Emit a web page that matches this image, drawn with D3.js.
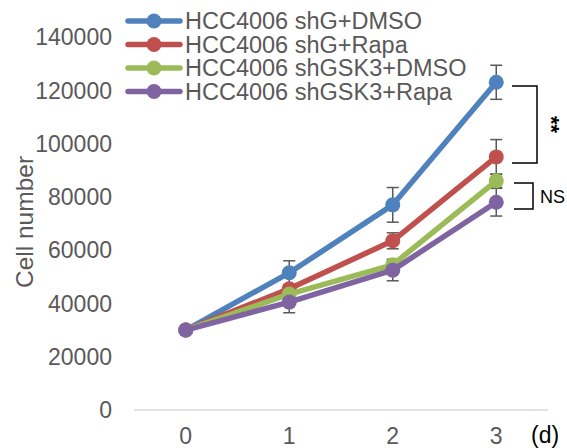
<!DOCTYPE html>
<html lang="en">
<head>
<meta charset="UTF-8">
<script src="https://d3js.org/d3.v7.min.js"></script>
<style>
  body { margin: 0; background: #fff; }
  text { font-family: "Liberation Sans", Arial, sans-serif; }
</style>
</head>
<body>
<svg width="567" height="448"></svg>
<script>
const days = ["0", "1", "2", "3"];
const seriesNames = ["HCC4006 shG+DMSO", "HCC4006 shG+Rapa", "HCC4006 shGSK3+DMSO", "HCC4006 shGSK3+Rapa"];
const seriesColors = ["#4f81bd", "#c0504d", "#9bbb59", "#8064a2"];
const shG_DMSO = [30000, 51500, 77000, 123000];
const shG_Rapa = [30000, 45500, 63500, 95000];
const shGSK3_DMSO = [30000, 43500, 54500, 86000];
const shGSK3_Rapa = [30000, 40500, 52500, 78000];
const errDMSO = [0, 4500, 6500, 6400];
const errRapa = [0, 1500, 3000, 6500];
const errGSK3DMSO = [0, 1500, 2000, 2500];
const errGSK3Rapa = [0, 4000, 4000, 5200];
const yTicks = [0, 20000, 40000, 60000, 80000, 100000, 120000, 140000];
const brackets = [
  { top: 121600, bottom: 92700, label: "**" },
  { top: 85200, bottom: 75400, label: "NS" }
];

const values = [shG_DMSO, shG_Rapa, shGSK3_DMSO, shGSK3_Rapa];
const errors = [errDMSO, errRapa, errGSK3DMSO, errGSK3Rapa];

const svg = d3.select("svg");
const x = d3.scaleBand().domain(days).range([134, 548]);
const xc = d => x(d) + x.bandwidth() / 2;
const y = d3.scaleLinear().domain([0, 140000]).range([410, 37]);
const grey = "#595959";

// y tick labels
svg.append("g").selectAll("text").data(yTicks).enter().append("text")
  .attr("x", 112).attr("y", d => y(d)).attr("dy", "0.36em")
  .attr("text-anchor", "end").attr("font-size", 23).attr("fill", grey)
  .text(d => d);

// x axis line
svg.append("line").attr("x1", 134).attr("x2", 548).attr("y1", y(0)).attr("y2", y(0))
  .attr("stroke", "#d9d9d9").attr("stroke-width", 1.5);

// x tick labels
svg.append("g").selectAll("text").data(days).enter().append("text")
  .attr("x", d => xc(d)).attr("y", 444).attr("text-anchor", "middle")
  .attr("font-size", 23).attr("fill", grey).text(d => d);

svg.append("text").attr("x", 531).attr("y", 443).attr("font-size", 23)
  .attr("fill", "#000").text("(d)");

// y title
svg.append("text").attr("transform", "translate(33,222) rotate(-90)")
  .attr("text-anchor", "middle").attr("font-size", 24.5).attr("fill", grey)
  .text("Cell number");

// error bars
values.forEach((vals, s) => {
  const g = svg.append("g").attr("stroke", grey).attr("stroke-width", 1.5);
  vals.forEach((v, i) => {
    const e = errors[s][i];
    if (!e) return;
    const cx = xc(days[i]);
    g.append("line").attr("x1", cx).attr("x2", cx).attr("y1", y(v - e)).attr("y2", y(v + e));
    g.append("line").attr("x1", cx - 6).attr("x2", cx + 6).attr("y1", y(v - e)).attr("y2", y(v - e));
    g.append("line").attr("x1", cx - 6).attr("x2", cx + 6).attr("y1", y(v + e)).attr("y2", y(v + e));
  });
});

// lines + markers
const line = d3.line().x((d, i) => xc(days[i])).y(d => y(d));
values.forEach((vals, s) => {
  svg.append("path").datum(vals).attr("d", line).attr("fill", "none")
    .attr("stroke", seriesColors[s]).attr("stroke-width", 5.5).attr("stroke-linejoin", "round");
  svg.append("g").selectAll("circle").data(vals).enter().append("circle")
    .attr("cx", (d, i) => xc(days[i])).attr("cy", d => y(d)).attr("r", 7.5)
    .attr("fill", seriesColors[s]);
});

// legend
const legend = svg.append("g");
seriesNames.forEach((name, i) => {
  const ly = 21 + i * 23.5;
  legend.append("line").attr("x1", 128).attr("x2", 180).attr("y1", ly).attr("y2", ly)
    .attr("stroke", seriesColors[i]).attr("stroke-width", 5.5).attr("stroke-linecap", "round");
  legend.append("circle").attr("cx", 154).attr("cy", ly).attr("r", 7.5).attr("fill", seriesColors[i]);
  legend.append("text").attr("x", 185).attr("y", ly).attr("dy", "0.36em")
    .attr("font-size", 23.5).attr("fill", grey).text(name);
});

// significance brackets
const bx = [[512, 537], [514, 533]];
brackets.forEach((b, i) => {
  const [x0, x1] = bx[i];
  svg.append("path")
    .attr("d", `M${x0},${y(b.top)}H${x1}V${y(b.bottom)}H${x0}`)
    .attr("fill", "none").attr("stroke", "#000").attr("stroke-width", 1.5);
});
svg.append("text").attr("transform", `translate(544,${(y(brackets[0].top) + y(brackets[0].bottom)) / 2}) rotate(90)`)
  .attr("text-anchor", "middle").attr("font-size", 22).attr("font-weight", "bold").attr("fill", "#000")
  .text(brackets[0].label);
svg.append("text").attr("x", 540).attr("y", (y(brackets[1].top) + y(brackets[1].bottom)) / 2)
  .attr("dy", "0.36em").attr("font-size", 18).attr("fill", "#000").text(brackets[1].label);
</script>
</body>
</html>
